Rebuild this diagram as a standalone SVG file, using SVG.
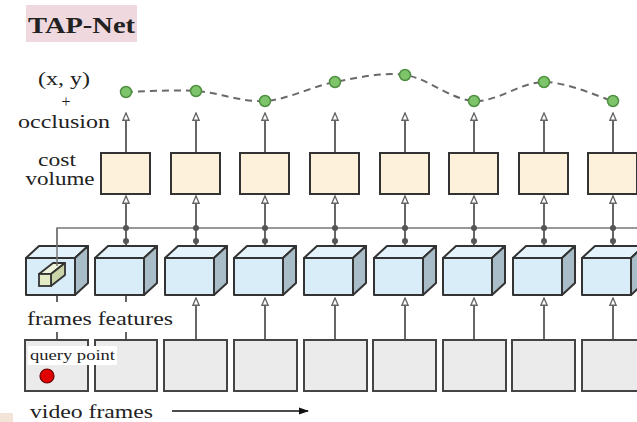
<svg xmlns="http://www.w3.org/2000/svg" width="637" height="422" viewBox="0 0 637 422">
<style>
text{font-family:"Liberation Serif","Times New Roman",serif;fill:#222}
.lbl{font-size:19px}
.cv{fill:#fdf1dc;stroke:#333;stroke-width:2}
.ff{fill:#d8edf8;stroke:#333;stroke-width:2;stroke-linejoin:round}
.ft{fill:#e4f3fb;stroke:#333;stroke-width:2;stroke-linejoin:round}
.fr{fill:#a9bdc8;stroke:#333;stroke-width:2;stroke-linejoin:round}
.vf{fill:#ebebeb;stroke:#444;stroke-width:2}
.ar{stroke:#666;stroke-width:2;fill:none;marker-end:url(#oa)}
.pl{stroke:#666;stroke-width:2;fill:none}
.jd{fill:#555}
.pt{fill:#7dc46b;stroke:#4f8f40;stroke-width:1.5}
</style>
<defs>
<marker id="oa" viewBox="0 0 10 10" refX="9" refY="5" markerWidth="9" markerHeight="9" markerUnits="userSpaceOnUse" orient="auto">
<path d="M1,1.5 L9,5 L1,8.5 z" fill="#fff" stroke="#666" stroke-width="1.5"/>
</marker>
<marker id="fa" viewBox="0 0 10 10" refX="9" refY="5" markerWidth="10" markerHeight="10" markerUnits="userSpaceOnUse" orient="auto">
<path d="M0,1.5 L10,5 L0,8.5 z" fill="#111"/>
</marker>
</defs>
<rect x="0" y="0" width="637" height="422" fill="#fff"/>
<rect x="0" y="413" width="13" height="9" fill="#f3e4d8"/>

<g id="title">
<rect x="26" y="5" width="111" height="37" fill="#efd9df"/>
<text x="28" y="33" font-size="24" font-weight="bold" textLength="107" lengthAdjust="spacingAndGlyphs">TAP-Net</text>
</g>

<g id="labels">
<text x="64" y="85" text-anchor="middle" class="lbl" textLength="52" lengthAdjust="spacingAndGlyphs">(x, y)</text>
<text x="66" y="107" text-anchor="middle" font-size="16">+</text>
<text x="64" y="128" text-anchor="middle" class="lbl" textLength="92" lengthAdjust="spacingAndGlyphs">occlusion</text>
<text x="57" y="166" text-anchor="middle" class="lbl" textLength="38" lengthAdjust="spacingAndGlyphs">cost</text>
<text x="60" y="185" text-anchor="middle" class="lbl" textLength="69" lengthAdjust="spacingAndGlyphs">volume</text>
</g>

<g id="connectors">
<path d="M126,92 C137.7,91.8 172.8,89.5 196,91 C219.2,92.5 241.8,102.5 265,101 C288.2,99.5 311.7,86.3 335,82 C358.3,77.7 381.8,71.8 405,75 C428.2,78.2 450.8,99.8 474,101 C497.2,102.2 520.8,82 544,82 C567.2,82 601.5,97.8 613,101" fill="none" stroke="#6a6a6a" stroke-width="2" stroke-dasharray="7,5"/>
<path d="M57,268 V228 H637" fill="none" stroke="#777" stroke-width="1.5"/>
<g>
<line class="ar" x1="126" y1="153" x2="126" y2="113"/>
<line class="ar" x1="196" y1="153" x2="196" y2="113"/>
<line class="ar" x1="265" y1="153" x2="265" y2="113"/>
<line class="ar" x1="335" y1="153" x2="335" y2="113"/>
<line class="ar" x1="405" y1="153" x2="405" y2="113"/>
<line class="ar" x1="474" y1="153" x2="474" y2="113"/>
<line class="ar" x1="544" y1="153" x2="544" y2="113"/>
<line class="ar" x1="613" y1="153" x2="613" y2="113"/>
</g>
<g>
<line class="ar" x1="126" y1="251" x2="126" y2="196"/>
<line class="ar" x1="196" y1="251" x2="196" y2="196"/>
<line class="ar" x1="265" y1="251" x2="265" y2="196"/>
<line class="ar" x1="335" y1="251" x2="335" y2="196"/>
<line class="ar" x1="405" y1="251" x2="405" y2="196"/>
<line class="ar" x1="474" y1="251" x2="474" y2="196"/>
<line class="ar" x1="544" y1="251" x2="544" y2="196"/>
<line class="ar" x1="613" y1="251" x2="613" y2="196"/>
</g>
<g>
<circle class="jd" cx="126" cy="228" r="3"/><circle class="jd" cx="126" cy="241" r="3"/>
<circle class="jd" cx="196" cy="228" r="3"/><circle class="jd" cx="196" cy="241" r="3"/>
<circle class="jd" cx="265" cy="228" r="3"/><circle class="jd" cx="265" cy="241" r="3"/>
<circle class="jd" cx="335" cy="228" r="3"/><circle class="jd" cx="335" cy="241" r="3"/>
<circle class="jd" cx="405" cy="228" r="3"/><circle class="jd" cx="405" cy="241" r="3"/>
<circle class="jd" cx="474" cy="228" r="3"/><circle class="jd" cx="474" cy="241" r="3"/>
<circle class="jd" cx="544" cy="228" r="3"/><circle class="jd" cx="544" cy="241" r="3"/>
<circle class="jd" cx="613" cy="228" r="3"/><circle class="jd" cx="613" cy="241" r="3"/>
</g>
<g>
<line class="pl" x1="57" y1="340" x2="57" y2="296"/>
<line class="pl" x1="126" y1="340" x2="126" y2="296"/>
<line class="ar" x1="196" y1="340" x2="196" y2="298"/>
<line class="ar" x1="265" y1="340" x2="265" y2="298"/>
<line class="ar" x1="335" y1="340" x2="335" y2="298"/>
<line class="ar" x1="405" y1="340" x2="405" y2="298"/>
<line class="ar" x1="474" y1="340" x2="474" y2="298"/>
<line class="ar" x1="544" y1="340" x2="544" y2="298"/>
<line class="ar" x1="613" y1="340" x2="613" y2="298"/>
</g>
<line x1="172" y1="411" x2="308" y2="411" stroke="#111" stroke-width="1.5" marker-end="url(#fa)"/>
</g>

<g id="points">
<circle class="pt" cx="126" cy="92" r="5.5"/>
<circle class="pt" cx="196" cy="91" r="5.5"/>
<circle class="pt" cx="265" cy="101" r="5.5"/>
<circle class="pt" cx="335" cy="82" r="5.5"/>
<circle class="pt" cx="405" cy="75" r="5.5"/>
<circle class="pt" cx="474" cy="101" r="5.5"/>
<circle class="pt" cx="544" cy="82" r="5.5"/>
<circle class="pt" cx="613" cy="101" r="5.5"/>
</g>

<g id="cost-volumes">
<rect class="cv" x="101" y="153" width="49" height="41"/>
<rect class="cv" x="171" y="153" width="49" height="41"/>
<rect class="cv" x="240" y="153" width="49" height="41"/>
<rect class="cv" x="310" y="153" width="49" height="41"/>
<rect class="cv" x="380" y="153" width="49" height="41"/>
<rect class="cv" x="449" y="153" width="49" height="41"/>
<rect class="cv" x="519" y="153" width="49" height="41"/>
<rect class="cv" x="588" y="153" width="49" height="41"/>
</g>

<g id="feature-0">
<polygon class="ft" points="26,258 39,246 88,246 75,258"/>
<polygon class="fr" points="75,258 88,246 88,283 75,295"/>
<rect class="ff" x="26" y="258" width="49" height="37"/>
<g id="query-feature">
<polygon points="39,274 53,263 65,263 51,274" fill="#eef3dc" stroke="#333" stroke-width="1.8" stroke-linejoin="round"/>
<polygon points="51,274 65,263 65,275 51,286" fill="#c9d4a8" stroke="#333" stroke-width="1.8" stroke-linejoin="round"/>
<rect x="39" y="274" width="12" height="12" fill="#e3ebc6" stroke="#333" stroke-width="1.8"/>
</g>
<line x1="57" y1="228" x2="57" y2="266" stroke="#777" stroke-width="1.5"/>
</g>
<g id="feature-1"><polygon class="ft" points="95,258 108,246 157,246 144,258"/><polygon class="fr" points="144,258 157,246 157,283 144,295"/><rect class="ff" x="95" y="258" width="49" height="37"/></g>
<g id="feature-2"><polygon class="ft" points="165,258 178,246 227,246 214,258"/><polygon class="fr" points="214,258 227,246 227,283 214,295"/><rect class="ff" x="165" y="258" width="49" height="37"/></g>
<g id="feature-3"><polygon class="ft" points="234,258 247,246 296,246 283,258"/><polygon class="fr" points="283,258 296,246 296,283 283,295"/><rect class="ff" x="234" y="258" width="49" height="37"/></g>
<g id="feature-4"><polygon class="ft" points="304,258 317,246 366,246 353,258"/><polygon class="fr" points="353,258 366,246 366,283 353,295"/><rect class="ff" x="304" y="258" width="49" height="37"/></g>
<g id="feature-5"><polygon class="ft" points="374,258 387,246 436,246 423,258"/><polygon class="fr" points="423,258 436,246 436,283 423,295"/><rect class="ff" x="374" y="258" width="49" height="37"/></g>
<g id="feature-6"><polygon class="ft" points="443,258 456,246 505,246 492,258"/><polygon class="fr" points="492,258 505,246 505,283 492,295"/><rect class="ff" x="443" y="258" width="49" height="37"/></g>
<g id="feature-7"><polygon class="ft" points="513,258 526,246 575,246 562,258"/><polygon class="fr" points="562,258 575,246 575,283 562,295"/><rect class="ff" x="513" y="258" width="49" height="37"/></g>
<g id="feature-8"><polygon class="ft" points="582,258 595,246 644,246 631,258"/><polygon class="fr" points="631,258 644,246 644,283 631,295"/><rect class="ff" x="582" y="258" width="49" height="37"/></g>

<g id="frames">
<rect class="vf" x="25" y="340" width="63" height="51"/>
<rect class="vf" x="95" y="340" width="62" height="51"/>
<rect class="vf" x="164" y="340" width="63" height="51"/>
<rect class="vf" x="234" y="340" width="63" height="51"/>
<rect class="vf" x="304" y="340" width="63" height="51"/>
<rect class="vf" x="373" y="340" width="63" height="51"/>
<rect class="vf" x="443" y="340" width="63" height="51"/>
<rect class="vf" x="512" y="340" width="63" height="51"/>
<rect class="vf" x="582" y="340" width="63" height="51"/>
</g>

<g id="frames-features-label">
<rect x="24" y="302" width="154" height="30" fill="#fff"/>
<text x="27" y="325" class="lbl" textLength="146" lengthAdjust="spacingAndGlyphs">frames features</text>
</g>

<g id="query-point">
<rect x="28" y="346" width="89" height="19" fill="#fff"/>
<text x="30" y="360" font-size="15" textLength="85" lengthAdjust="spacingAndGlyphs">query point</text>
<circle cx="47" cy="376" r="7" fill="#e00000" stroke="#600" stroke-width="1.2"/>
</g>

<g id="video-frames-label">
<text x="30" y="418" class="lbl" textLength="123" lengthAdjust="spacingAndGlyphs">video frames</text>
</g>
</svg>
